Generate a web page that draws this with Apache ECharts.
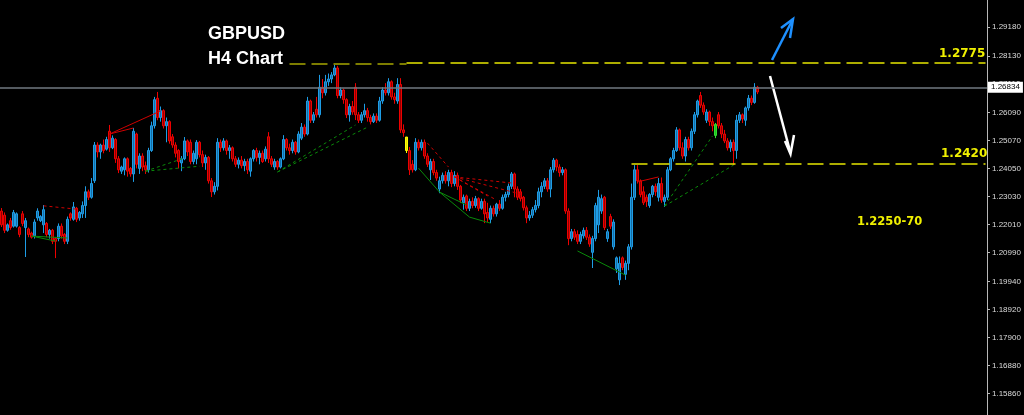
<!DOCTYPE html>
<html>
<head>
<meta charset="utf-8">
<script src="https://cdn.jsdelivr.net/npm/echarts@6/dist/echarts.min.js"></script>
<style>
html,body{margin:0;padding:0;background:#000;}
#chart{width:1024px;height:415px;}
</style>
</head>
<body>
<div id="chart"></div>
<script>
// ---- DATA ----
// H4 bars, each [open, close, low, high]
const candles = [
[1.2250,1.2200,1.2192,1.2261],[1.2235,1.2180,1.2170,1.2245],[1.2180,1.2200,1.2175,1.2205],[1.2215,1.2190,1.2182,1.2225],
[1.2195,1.2245,1.2190,1.2254],[1.2195,1.2240,1.2190,1.2245],[1.2190,1.2165,1.2155,1.2195],[1.2240,1.2205,1.2195,1.2250],
[1.2190,1.2215,1.2083,1.2225],[1.2185,1.2165,1.2155,1.2190],[1.2170,1.2155,1.2150,1.2175],[1.2160,1.2210,1.2150,1.2220],
[1.2225,1.2250,1.2215,1.2260],[1.2215,1.2230,1.2210,1.2235],[1.2200,1.2255,1.2170,1.2272],[1.2205,1.2165,1.2155,1.2210],
[1.2165,1.2180,1.2150,1.2185],[1.2180,1.2140,1.2130,1.2185],[1.2150,1.2140,1.2079,1.2155],[1.2150,1.2195,1.2140,1.2205],
[1.2195,1.2160,1.2150,1.2205],[1.2165,1.2140,1.2130,1.2170],[1.2140,1.2220,1.2130,1.2230],[1.2240,1.2225,1.2215,1.2245],
[1.2220,1.2265,1.2215,1.2283],[1.2260,1.2220,1.2210,1.2265],[1.2225,1.2245,1.2215,1.2250],[1.2240,1.2270,1.2225,1.2285],
[1.2270,1.2320,1.2225,1.2340],[1.2320,1.2300,1.2290,1.2328],[1.2300,1.2350,1.2295,1.2370],[1.2360,1.2490,1.2352,1.2501],
[1.2490,1.2465,1.2445,1.2500],[1.2465,1.2490,1.2440,1.2495],[1.2490,1.2470,1.2460,1.2510],[1.2475,1.2510,1.2470,1.2520],
[1.2540,1.2480,1.2465,1.2563],[1.2480,1.2515,1.2475,1.2525],[1.2510,1.2440,1.2425,1.2515],[1.2440,1.2400,1.2388,1.2450],
[1.2395,1.2410,1.2385,1.2415],[1.2400,1.2440,1.2380,1.2445],[1.2440,1.2395,1.2375,1.2445],[1.2405,1.2385,1.2375,1.2410],
[1.2385,1.2540,1.2356,1.2552],[1.2530,1.2420,1.2405,1.2535],[1.2405,1.2450,1.2385,1.2460],[1.2450,1.2410,1.2395,1.2460],
[1.2415,1.2400,1.2385,1.2430],[1.2400,1.2470,1.2390,1.2480],[1.2470,1.2560,1.2465,1.2575],[1.2560,1.2655,1.2550,1.2665],
[1.2660,1.2590,1.2580,1.2683],[1.2590,1.2615,1.2575,1.2630],[1.2615,1.2560,1.2550,1.2620],[1.2560,1.2575,1.2500,1.2590],
[1.2575,1.2505,1.2495,1.2580],[1.2520,1.2490,1.2480,1.2530],[1.2490,1.2460,1.2445,1.2500],[1.2470,1.2430,1.2405,1.2475],
[1.2425,1.2440,1.2395,1.2450],[1.2440,1.2505,1.2435,1.2519],[1.2505,1.2465,1.2450,1.2510],[1.2500,1.2430,1.2420,1.2510],
[1.2430,1.2460,1.2420,1.2470],[1.2440,1.2500,1.2420,1.2508],[1.2500,1.2455,1.2445,1.2505],[1.2455,1.2425,1.2410,1.2470],
[1.2425,1.2445,1.2400,1.2455],[1.2445,1.2360,1.2350,1.2450],[1.2360,1.2320,1.2301,1.2370],[1.2320,1.2340,1.2310,1.2355],
[1.2340,1.2500,1.2325,1.2515],[1.2500,1.2480,1.2465,1.2510],[1.2480,1.2505,1.2470,1.2515],[1.2505,1.2470,1.2455,1.2510],
[1.2470,1.2480,1.2440,1.2490],[1.2480,1.2440,1.2430,1.2485],[1.2440,1.2420,1.2410,1.2450],[1.2420,1.2435,1.2405,1.2445],
[1.2435,1.2415,1.2405,1.2450],[1.2415,1.2430,1.2395,1.2440],[1.2430,1.2400,1.2385,1.2440],[1.2395,1.2440,1.2375,1.2445],
[1.2440,1.2470,1.2430,1.2475],[1.2470,1.2445,1.2430,1.2480],[1.2445,1.2460,1.2420,1.2470],[1.2460,1.2430,1.2425,1.2470],
[1.2440,1.2475,1.2430,1.2485],[1.2520,1.2440,1.2425,1.2537],[1.2440,1.2420,1.2410,1.2450],[1.2410,1.2430,1.2400,1.2440],
[1.2430,1.2410,1.2400,1.2435],[1.2410,1.2440,1.2405,1.2445],[1.2440,1.2510,1.2435,1.2526],[1.2510,1.2480,1.2470,1.2515],
[1.2480,1.2470,1.2455,1.2495],[1.2470,1.2500,1.2460,1.2510],[1.2500,1.2465,1.2455,1.2505],[1.2465,1.2530,1.2460,1.2540],
[1.2515,1.2555,1.2508,1.2570],[1.2555,1.2530,1.2520,1.2565],[1.2530,1.2650,1.2525,1.2665],[1.2650,1.2580,1.2570,1.2655],
[1.2580,1.2600,1.2570,1.2610],[1.2620,1.2600,1.2590,1.2665],[1.2600,1.2700,1.2590,1.2745],[1.2700,1.2680,1.2660,1.2730],
[1.2680,1.2720,1.2670,1.2745],[1.2720,1.2730,1.2705,1.2750],[1.2730,1.2745,1.2715,1.2755],[1.2745,1.2770,1.2740,1.2781],
[1.2770,1.2670,1.2660,1.2778],[1.2670,1.2690,1.2660,1.2700],[1.2690,1.2655,1.2640,1.2695],[1.2655,1.2600,1.2588,1.2660],
[1.2600,1.2630,1.2575,1.2640],[1.2630,1.2610,1.2600,1.2650],[1.2700,1.2600,1.2581,1.2715],[1.2600,1.2580,1.2570,1.2610],
[1.2580,1.2600,1.2570,1.2610],[1.2600,1.2615,1.2590,1.2640],[1.2615,1.2590,1.2575,1.2625],[1.2590,1.2575,1.2565,1.2600],
[1.2575,1.2595,1.2570,1.2605],[1.2595,1.2580,1.2570,1.2605],[1.2580,1.2650,1.2575,1.2665],[1.2650,1.2690,1.2640,1.2700],
[1.2690,1.2680,1.2670,1.2715],[1.2680,1.2720,1.2670,1.2733],[1.2720,1.2665,1.2655,1.2725],[1.2665,1.2655,1.2640,1.2680],
[1.2650,1.2710,1.2640,1.2733],[1.2710,1.2545,1.2534,1.2733],[1.2545,1.2535,1.2520,1.2565],[1.2519,1.2470,1.2461,1.2519],
[1.2470,1.2400,1.2381,1.2483],[1.2420,1.2400,1.2390,1.2435],[1.2400,1.2500,1.2395,1.2515],[1.2500,1.2480,1.2470,1.2510],
[1.2480,1.2500,1.2470,1.2510],[1.2500,1.2450,1.2440,1.2510],[1.2450,1.2420,1.2410,1.2460],[1.2400,1.2430,1.2363,1.2440],
[1.2430,1.2390,1.2380,1.2440],[1.2390,1.2370,1.2360,1.2400],[1.2330,1.2360,1.2315,1.2375],[1.2360,1.2380,1.2350,1.2390],
[1.2380,1.2360,1.2350,1.2395],[1.2360,1.2390,1.2340,1.2400],[1.2390,1.2350,1.2337,1.2400],[1.2350,1.2380,1.2340,1.2395],
[1.2380,1.2340,1.2327,1.2390],[1.2340,1.2290,1.2279,1.2345],[1.2280,1.2300,1.2255,1.2310],[1.2305,1.2260,1.2250,1.2310],
[1.2260,1.2285,1.2250,1.2295],[1.2285,1.2270,1.2260,1.2300],[1.2270,1.2295,1.2262,1.2305],[1.2295,1.2260,1.2250,1.2300],
[1.2260,1.2285,1.2255,1.2295],[1.2285,1.2240,1.2206,1.2295],[1.2245,1.2225,1.2210,1.2280],[1.2220,1.2260,1.2206,1.2270],
[1.2260,1.2240,1.2230,1.2270],[1.2240,1.2275,1.2230,1.2280],[1.2275,1.2260,1.2250,1.2290],[1.2260,1.2300,1.2255,1.2310],
[1.2300,1.2310,1.2285,1.2320],[1.2310,1.2340,1.2300,1.2350],[1.2340,1.2385,1.2330,1.2392],[1.2385,1.2330,1.2300,1.2390],
[1.2330,1.2300,1.2290,1.2340],[1.2320,1.2295,1.2285,1.2330],[1.2300,1.2262,1.2252,1.2305],[1.2262,1.2225,1.2206,1.2270],
[1.2225,1.2235,1.2215,1.2250],[1.2235,1.2255,1.2225,1.2265],[1.2255,1.2270,1.2245,1.2290],[1.2270,1.2320,1.2260,1.2335],
[1.2320,1.2340,1.2300,1.2355],[1.2340,1.2360,1.2330,1.2370],[1.2360,1.2330,1.2320,1.2370],[1.2330,1.2400,1.2300,1.2410],
[1.2400,1.2435,1.2390,1.2443],[1.2435,1.2410,1.2395,1.2440],[1.2410,1.2390,1.2375,1.2420],[1.2390,1.2400,1.2380,1.2410],
[1.2400,1.2250,1.2240,1.2405],[1.2250,1.2150,1.2126,1.2260],[1.2150,1.2175,1.2140,1.2185],[1.2175,1.2155,1.2145,1.2185],
[1.2165,1.2140,1.2130,1.2180],[1.2140,1.2165,1.2130,1.2175],[1.2160,1.2180,1.2150,1.2190],[1.2180,1.2155,1.2145,1.2192],
[1.2155,1.2130,1.2120,1.2165],[1.2100,1.2150,1.2043,1.2160],[1.2150,1.2270,1.2140,1.2280],[1.2200,1.2300,1.2170,1.2327],
[1.2250,1.2295,1.2240,1.2310],[1.2300,1.2190,1.2181,1.2305],[1.2150,1.2175,1.2138,1.2185],[1.2230,1.2195,1.2185,1.2240],
[1.2120,1.2210,1.2110,1.2220],[1.2040,1.2080,1.2025,1.2085],[1.2000,1.2060,1.1981,1.2085],[1.2080,1.2045,1.2035,1.2085],
[1.2020,1.2060,1.2000,1.2070],[1.2060,1.2120,1.2035,1.2130],[1.2120,1.2300,1.2110,1.2350],[1.2300,1.2400,1.2290,1.2417],
[1.2400,1.2360,1.2350,1.2417],[1.2360,1.2310,1.2300,1.2365],[1.2320,1.2280,1.2272,1.2340],[1.2300,1.2285,1.2265,1.2310],
[1.2270,1.2310,1.2262,1.2315],[1.2310,1.2340,1.2300,1.2345],[1.2340,1.2320,1.2305,1.2350],[1.2300,1.2350,1.2285,1.2370],
[1.2350,1.2290,1.2280,1.2372],[1.2285,1.2300,1.2265,1.2310],[1.2300,1.2400,1.2290,1.2410],[1.2400,1.2440,1.2395,1.2446],
[1.2440,1.2470,1.2430,1.2480],[1.2470,1.2545,1.2465,1.2555],[1.2545,1.2480,1.2470,1.2550],[1.2480,1.2450,1.2440,1.2500],
[1.2450,1.2510,1.2430,1.2520],[1.2510,1.2480,1.2470,1.2520],[1.2480,1.2540,1.2470,1.2550],[1.2540,1.2600,1.2530,1.2610],
[1.2600,1.2650,1.2590,1.2655],[1.2670,1.2635,1.2625,1.2683],[1.2635,1.2610,1.2600,1.2645],[1.2580,1.2610,1.2570,1.2620],
[1.2610,1.2575,1.2560,1.2615],[1.2575,1.2560,1.2540,1.2590],[1.2525,1.2565,1.2515,1.2570],[1.2600,1.2560,1.2550,1.2610],
[1.2560,1.2530,1.2515,1.2570],[1.2530,1.2505,1.2497,1.2545],[1.2505,1.2480,1.2470,1.2515],[1.2480,1.2500,1.2465,1.2510],
[1.2500,1.2470,1.2417,1.2510],[1.2470,1.2580,1.2440,1.2599],[1.2580,1.2600,1.2570,1.2610],[1.2600,1.2585,1.2570,1.2605],
[1.2580,1.2625,1.2560,1.2630],[1.2625,1.2660,1.2615,1.2672],[1.2660,1.2645,1.2635,1.2670],[1.2645,1.2700,1.2640,1.2715],
[1.2700,1.2683,1.2675,1.2705]
];
const totalSlots = 329;               // bars visible incl. empty future space
const categories = Array.from({length: totalSlots}, (_, i) => String(i));
const yellowBar = 135, greenBar = 238;
const priceTicks = [1.29180,1.28130,1.27110,1.26090,1.25070,1.24050,1.23030,1.22010,1.20990,1.19940,1.18920,1.17900,1.16880,1.15860];
const yMin = 1.15087, yMax = 1.30172;
const currentPrice = 1.26834;
const upperLevel = 1.2790, upperLabel = '1.2775';
const lowerLevel = 1.2423, lowerLabel = '1.2420';
const targetLabel = '1.2250-70';
// trend lines: [barIndex, price] pairs
const redSolid = [
  [[36,1.2530],[53,1.2614]], [[36,1.2530],[44,1.2552]], [[212,1.2356],[219,1.2374]]
];
const redDashed = [
  [[14,1.2269],[25,1.2257]], [[142,1.2497],[149,1.2410]],
  [[151,1.2374],[170,1.2352]], [[151,1.2374],[174,1.2309]], [[151,1.2374],[165,1.2290]], [[151,1.2374],[162,1.2305]]
];
const greenSolid = [
  [[10,1.2159],[22,1.2152]], [[10,1.2159],[18,1.2141]],
  [[139,1.2406],[146,1.2319]], [[146,1.2319],[155,1.2272]], [[146,1.2319],[156,1.2228]], [[156,1.2228],[163,1.2206]],
  [[192,1.2105],[208,1.2017]]
];
const greenDashed = [
  [[48,1.2395],[61,1.2443]], [[48,1.2395],[66,1.2413]],
  [[92,1.2392],[118,1.2563]], [[92,1.2392],[122,1.2555]],
  [[221,1.2268],[237,1.2523]], [[221,1.2268],[244,1.2417]]
];

// ---- BUILD ----
const seriesData = candles.map((c, i) => {
  if (i === yellowBar) return {value: c, itemStyle: {color:'#e0e000', color0:'#e0e000', borderColor:'#ffff00', borderColor0:'#ffff00'}};
  if (i === greenBar) return {value: c, itemStyle: {color:'#20c020', color0:'#20c020', borderColor:'#30e030', borderColor0:'#30e030'}};
  return c;
});
function seg(list, color, type, width) {
  return list.map(p => [{coord: p[0], lineStyle: {color, type, width}}, {coord: p[1]}]);
}
const markLines = [].concat(
  seg(redSolid, '#d00000', 'solid', 1),
  seg(redDashed, '#d00000', [3,3], 1),
  seg(greenSolid, '#0a8a0a', 'solid', 1),
  seg(greenDashed, '#0a8a0a', [3,3], 1),
  [[{coord:[96, upperLevel - 0.0003], lineStyle:{color:'#a6a600', type:[16,6], width:1.5}}, {coord:[135, upperLevel - 0.0003]}]],
  [[{coord:[135, upperLevel], lineStyle:{color:'#e6e600', type:[16,6], width:1.5}}, {coord:[totalSlots-1, upperLevel]}]],
  [[{coord:[210, lowerLevel], lineStyle:{color:'#e6e600', type:[16,6], width:1.5}}, {coord:[totalSlots-1, lowerLevel]}]],
  [{yAxis: currentPrice, lineStyle:{color:'#717880', type:'solid', width:1.5},
    label:{show:true, position:'end', distance:1, formatter: currentPrice.toFixed(5),
      backgroundColor:'#ffffff', color:'#000000', fontSize:8, fontFamily:'Liberation Sans', padding:[2,3,1,3]}}]
);

const chart = echarts.init(document.getElementById('chart'), null, {renderer:'canvas'});
chart.setOption({
  backgroundColor: '#000000',
  animation: false,
  grid: {left: 0, right: 37, top: 0, bottom: 0},
  xAxis: {type: 'category', data: categories, show: false, boundaryGap: true},
  yAxis: {
    type: 'value', position: 'right', min: yMin, max: yMax, scale: true,
    splitLine: {show: false},
    axisLine: {show: true, lineStyle: {color: '#b8b8b8', width: 1}},
    axisTick: {show: true, length: 3, customValues: priceTicks, lineStyle: {color: '#b8b8b8'}},
    axisLabel: {show: true, customValues: priceTicks, margin: 5, color: '#dcdcdc', fontSize: 8,
      fontFamily: 'Liberation Sans', formatter: v => v.toFixed(5)}
  },
  series: [{
    type: 'candlestick',
    data: seriesData,
    barWidth: 1.8,
    itemStyle: {color: '#176ea6', color0: '#900000', borderColor: '#1e9de6', borderColor0: '#ee0000', borderWidth: 1},
    emphasis: {disabled: true},
    markLine: {silent: true, symbol: ['none','none'], animation: false, label: {show: false}, data: markLines}
  }],
  graphic: [
    {type:'text', x:208, y:34, style:{text:'GBPUSD', fill:'#ffffff', font:'bold 18px "Liberation Sans"', verticalAlign:'middle', align:'left'}},
    {type:'text', x:208, y:59, style:{text:'H4 Chart', fill:'#ffffff', font:'bold 18px "Liberation Sans"', verticalAlign:'middle', align:'left'}},
    {type:'text', x:939, y:54, style:{text:upperLabel, fill:'#f0f000', font:'bold 12px "DejaVu Sans"', verticalAlign:'middle', align:'left'}},
    {type:'text', x:941, y:153.5, style:{text:lowerLabel, fill:'#f0f000', font:'bold 12px "DejaVu Sans"', verticalAlign:'middle', align:'left'}},
    {type:'text', x:857, y:222.5, style:{text:targetLabel, fill:'#f0f000', font:'bold 11.5px "DejaVu Sans"', verticalAlign:'middle', align:'left'}},
    {type:'line', shape:{x1:772, y1:60, x2:793, y2:19}, style:{stroke:'#1e90ff', lineWidth:2.5}},
    {type:'polyline', shape:{points:[[781,28],[793,19],[790,38]]}, style:{stroke:'#1e90ff', lineWidth:2.5, fill:null}},
    {type:'line', shape:{x1:770, y1:76, x2:790.5, y2:153}, style:{stroke:'#ffffff', lineWidth:2.5}},
    {type:'polyline', shape:{points:[[785,141],[790.5,154],[794,135]]}, style:{stroke:'#ffffff', lineWidth:2.5, fill:null}}
  ]
});
</script>
</body>
</html>
